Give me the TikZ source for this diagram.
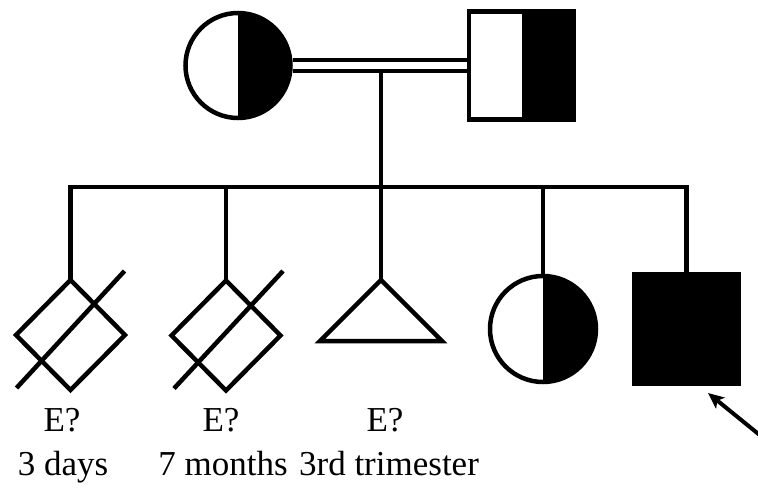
\documentclass[tikz,border=0pt]{standalone}
\usepackage{fontspec}
\setmainfont{Liberation Serif}
\usetikzlibrary{shapes.geometric,arrows.meta,calc}
\begin{document}
\begin{tikzpicture}[x=1pt,y=1pt,
  sym/.style={line width=4.5pt, draw=black, fill=white, inner sep=0pt, outer sep=0pt},
  circ/.style={sym, circle, minimum size=#1},
  sq/.style={sym, rectangle},
  halfblack/.style={path picture={\fill[black] (path picture bounding box.north) rectangle (path picture bounding box.south east);}},
  dia/.style={sym, diamond, minimum width=109pt, minimum height=110pt},
  ln/.style={line width=4.5pt},
  strike/.style={line width=4.5pt},
  lbl/.style={font=\fontsize{35}{40}\selectfont, anchor=base, inner sep=0pt}
]
\useasboundingbox (0,0) rectangle (758,-489);

% parents
\node[circ=105pt, halfblack] (mom) at (238,-65.5) {};
\node[sq, halfblack, minimum width=105pt, minimum height=108pt] (dad) at (521.5,-65.5) {};
\draw[ln, double, double distance=6.5pt, shorten <=2.25pt, shorten >=2.25pt] (mom.east) -- (dad.west);

% children
\node[dia] (d1) at (70.5,-335) {};
\node[dia] (d2) at (226,-335.5) {};
\coordinate (tri) at (381,-280);
\node[circ=106pt, halfblack] (c4) at (543,-329) {};
\node[sq, fill=black, minimum width=105pt, minimum height=110pt] (son) at (686.5,-329) {};

% lines of descent
\coordinate (sib) at (0,-187);
\coordinate (mid) at (381,-71);
\draw[ln] (mid) -- (mid |- sib);
\draw[ln] (d1.north) -- (d1.north |- sib) -- (son.north |- sib) -- (son.north);
\draw[ln] (d2.north) -- (d2.north |- sib);
\draw[ln] (tri) -- (tri |- sib);
\draw[ln] (c4.north) -- (c4.north |- sib);

% triangle (pregnancy)
\draw[ln, line join=miter] (tri) -- ++(-61,-61) -- ++(122,0) -- cycle;

% deceased strikes
\draw[strike] ([shift={(-54,-53)}]d1.center) -- ([shift={(54,64)}]d1.center);
\draw[strike] ([shift={(-52,-53)}]d2.center) -- ([shift={(57,64.5)}]d2.center);

% proband arrow
\coordinate (arrtail) at (764,-438.5);
\draw[line width=4pt, -{Stealth[length=16pt,width=14pt,inset=4pt]}] (arrtail) -- ([shift={(-31,-9)}]son.south east);

% labels
\node[lbl] (e1) at (62,-431) {E?};
\node[lbl] (a1) at (63,-475) {3 days};
\node[lbl] (e2) at (221,-431) {E?};
\node[lbl] (a2) at (223,-475) {7 months};
\node[lbl] (e3) at (385,-431) {E?};
\node[lbl] (a3) at (389,-475) {3rd trimester};
\end{tikzpicture}
\end{document}
